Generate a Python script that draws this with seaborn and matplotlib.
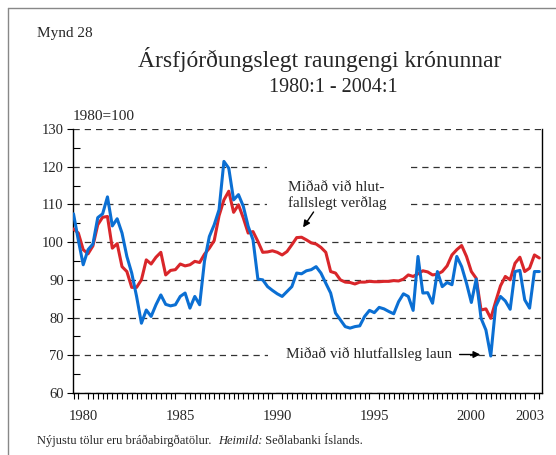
import numpy as np
import pandas as pd
import matplotlib
matplotlib.use("Agg")
import matplotlib.pyplot as plt
from matplotlib.ticker import FixedLocator, MultipleLocator
from matplotlib.lines import Line2D
import seaborn as sns

# Gögn: ársfjórðungslegt raungengi, 1980=100 (1980:1 - 2004:1)
laun = [107.5, 100.5, 94.0, 98.0, 99.5, 106.5, 107.5, 112.0, 104.3, 106.2,
        102.4, 96.2, 91.8, 85.6, 78.5, 82.0, 80.3, 83.4, 86.0, 83.5,
        83.1, 83.4, 85.6, 86.5, 82.5, 85.6, 83.4, 95.0, 101.5, 104.6,
        108.6, 121.4, 119.6, 111.2, 112.6, 109.5, 104.2, 100.6, 90.2, 90.0,
        88.2, 87.2, 86.3, 85.6, 86.9, 88.2, 91.8, 91.6, 92.4, 92.7,
        93.5, 91.8, 89.1, 86.5, 81.2, 79.4, 77.6, 77.2, 77.6, 77.8,
        80.3, 81.9, 81.3, 82.7, 82.3, 81.6, 81.0, 84.2, 86.3, 85.6,
        81.9, 96.2, 86.5, 86.6, 83.8, 92.2, 88.2, 89.3, 88.7, 96.2,
        93.5, 89.1, 84.0, 90.2, 79.8, 76.7, 69.8, 82.9, 85.6, 84.4,
        82.2, 92.2, 92.5, 84.7, 82.5, 92.2, 92.2]
verdlag = [103.5, 102.4, 98.0, 96.9, 99.0, 104.6, 106.6, 106.8, 98.4, 99.6,
           93.5, 92.2, 88.0, 88.0, 90.0, 95.3, 94.2, 96.0, 97.3, 91.3,
           92.5, 92.7, 94.2, 93.7, 94.0, 94.9, 94.6, 96.8, 98.4, 100.4,
           107.0, 111.2, 113.5, 107.9, 109.9, 106.4, 102.4, 102.8, 100.2, 97.3,
           97.4, 97.7, 97.3, 96.6, 97.5, 99.3, 101.2, 101.3, 100.6, 99.8,
           99.5, 98.6, 97.3, 92.2, 91.8, 90.0, 89.4, 89.3, 88.9, 89.4,
           89.4, 89.6, 89.5, 89.5, 89.6, 89.6, 89.8, 89.7, 90.2, 91.3,
           90.9, 91.6, 92.4, 92.1, 91.3, 91.5, 92.2, 93.7, 96.6, 98.0,
           99.1, 96.2, 92.2, 90.4, 82.0, 82.3, 79.8, 84.2, 88.4, 90.9,
           90.0, 94.4, 96.0, 92.2, 93.1, 96.6, 95.8]
ar_merki = [1980, 1985, 1990, 1995, 2000, 2003]

timi = 1980 + np.arange(len(laun)) / 4
df = pd.DataFrame({"timi": timi, "laun": laun, "verdlag": verdlag})

sns.set_style("white")
plt.rcParams["font.family"] = ["Liberation Serif", "DejaVu Serif"]

fig = plt.figure(figsize=(5.56, 4.55), dpi=100)
ax = fig.add_axes([0.1308, 0.1363, 0.8435, 0.5802])

sns.lineplot(data=df, x="timi", y="verdlag", color="#d9262a", lw=2.2, ax=ax, zorder=3)
sns.lineplot(data=df, x="timi", y="laun", color="#0b6fd3", lw=2.2, ax=ax, zorder=3)

ax.set_xlim(1979.96, 2004.125)
ax.set_ylim(60, 130)
ax.set_xlabel("")
ax.set_ylabel("")

# y-ás
ax.yaxis.set_major_locator(MultipleLocator(10))
ax.yaxis.set_minor_locator(MultipleLocator(5))
ax.tick_params(axis="y", which="major", direction="out", length=4.5, width=0.8,
               color="black", labelsize=10.5, pad=2, left=True)
ax.tick_params(axis="y", which="minor", direction="in", length=5, width=0.8,
               color="black", left=True)

# x-ás: merki fyrir hvern ársfjórðung, ártöl á miðju ári
ax.xaxis.set_major_locator(FixedLocator([a + 0.5 for a in ar_merki]))
ax.set_xticklabels([str(a) for a in ar_merki])
ax.xaxis.set_minor_locator(FixedLocator(list(timi)))
ax.tick_params(axis="x", which="major", length=0, labelsize=10.5, pad=12)
ax.tick_params(axis="x", which="minor", direction="out", length=4, width=0.8,
               color="black", bottom=True)

ax.set_axisbelow(True)
ax.yaxis.grid(True, which="major", color="#333333", linestyle=(0, (5, 4)), lw=0.9)
ax.xaxis.grid(False)
ax.spines["top"].set_visible(False)
for s in ["left", "right", "bottom"]:
    ax.spines[s].set_color("black")
    ax.spines[s].set_linewidth(1.0)

# skýringar
ax.text(1991.05, 112.4, "Miðað við hlut-\nfallslegt verðlag", fontsize=11,
        ha="left", va="center", linespacing=1.15, zorder=1,
        bbox=dict(boxstyle="square,pad=1.4", fc="white", ec="none"))
ax.annotate("", xy=(1991.75, 103.3), xytext=(1992.45, 108.6), zorder=4,
            arrowprops=dict(arrowstyle="-|>", color="black", lw=1, mutation_scale=10))
ax.text(1990.95, 70.4, "Miðað við hlutfallsleg laun", fontsize=11,
        ha="left", va="center", zorder=1,
        bbox=dict(boxstyle="square,pad=1.2", fc="white", ec="none"))
ax.annotate("", xy=(2001.1, 70.2), xytext=(1999.75, 70.2), zorder=4,
            arrowprops=dict(arrowstyle="-|>", color="black", lw=1, mutation_scale=10))

# textar utan við ásinn
fig.text(37 / 556, 1 - 33 / 455, "Mynd 28", fontsize=11, ha="left", va="center")
fig.text(320 / 556, 1 - 60 / 455, "Ársfjórðungslegt raungengi krónunnar",
         fontsize=17, ha="center", va="center")
fig.text(333 / 556, 1 - 88 / 455, "1980:1 - 2004:1", fontsize=14.5, ha="center", va="center")
fig.text(73 / 556, 1 - 117 / 455, "1980=100", fontsize=11, ha="left", va="center")

t1 = fig.text(37 / 556, 1 - 447 / 455, "Nýjustu tölur eru bráðabirgðatölur.  ",
              fontsize=9, ha="left", va="bottom")
t2 = ax.annotate("Heimild:", xy=(1, 0), xycoords=t1, fontsize=9, style="italic",
                 ha="left", va="bottom", annotation_clip=False)
ax.annotate(" Seðlabanki Íslands.", xy=(1, 0), xycoords=t2, fontsize=9,
            ha="left", va="bottom", annotation_clip=False)

# rammi um myndina
fig.add_artist(Line2D([8 / 556, 8 / 556], [0, 1 - 8 / 455], color="#888888", lw=1))
fig.add_artist(Line2D([8 / 556, 1], [1 - 8 / 455, 1 - 8 / 455], color="#888888", lw=1))

fig.savefig("out.png", dpi=100)
